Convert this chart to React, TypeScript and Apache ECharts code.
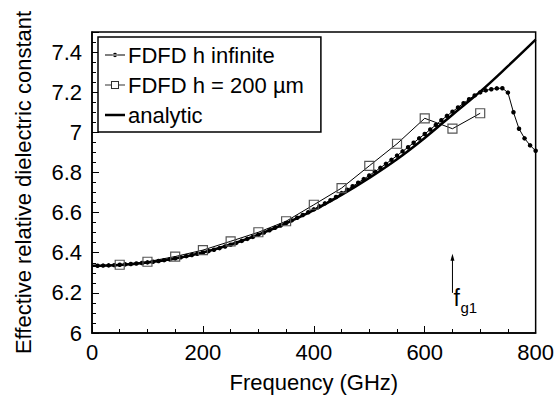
import React, { useEffect, useRef } from "react";
import * as echarts from "echarts";

// FDFD h infinite (10 GHz steps)
const freqInf = [
  10, 20, 30, 40, 50, 60, 70, 80, 90, 100,
  110, 120, 130, 140, 150, 160, 170, 180, 190, 200,
  210, 220, 230, 240, 250, 260, 270, 280, 290, 300,
  310, 320, 330, 340, 350, 360, 370, 380, 390, 400,
  410, 420, 430, 440, 450, 460, 470, 480, 490, 500,
  510, 520, 530, 540, 550, 560, 570, 580, 590, 600,
  610, 620, 630, 640, 650, 660, 670, 680, 690, 700,
  710, 720, 730, 740, 750, 760, 770, 780, 790, 800,
];
const epsInf = [
  6.335, 6.336, 6.337, 6.338, 6.34, 6.342, 6.344, 6.346, 6.349, 6.352,
  6.355, 6.359, 6.363, 6.367, 6.372, 6.377, 6.383, 6.389, 6.395, 6.401,
  6.408, 6.415, 6.423, 6.431, 6.44, 6.449, 6.459, 6.469, 6.479, 6.49,
  6.501, 6.512, 6.524, 6.536, 6.548, 6.561, 6.574, 6.588, 6.602, 6.616,
  6.631, 6.646, 6.662, 6.678, 6.697, 6.714, 6.731, 6.749, 6.767, 6.785,
  6.804, 6.823, 6.843, 6.863, 6.884, 6.905, 6.926, 6.948, 6.97, 6.992,
  7.014, 7.037, 7.06, 7.082, 7.103, 7.124, 7.145, 7.165, 7.184, 7.199,
  7.209, 7.215, 7.219, 7.22, 7.198, 7.1, 7.018, 6.97, 6.935, 6.908,
];

// FDFD h = 200 um
const freq200 = [50, 100, 150, 200, 250, 300, 350, 400, 450, 500, 550, 600, 650, 700];
const eps200 = [6.34, 6.355, 6.381, 6.413, 6.457, 6.502, 6.557, 6.639, 6.722, 6.833, 6.943, 7.07, 7.018, 7.095];

// analytic
const freqAna = [0, 50, 100, 150, 200, 250, 300, 350, 400, 450, 500, 550, 600, 650, 700, 750, 800];
const epsAna = [6.335, 6.339, 6.351, 6.371, 6.401, 6.441, 6.49, 6.547, 6.612, 6.688, 6.773, 6.866, 6.972, 7.088, 7.203, 7.33, 7.462];

// cutoff marker f_g1
const fg1Freq = 650;
const fg1Range = [6.2, 6.395];

const xTicks = { min: 0, max: 800, interval: 200 };
const yTicks = { min: 6, max: 7.5, interval: 0.2 };

const seriesNames = ["FDFD h infinite", "FDFD h = 200 µm", "analytic"];

const FONT = "'Liberation Sans', Arial, sans-serif";

// legend icons (box 20 x 12; tiny corner dots fix the bounding box)
const BOX = "M0,0h0.01v0.01h-0.01z M19.99,11.99h0.01v0.01h-0.01z ";
const iconDot = "path://" + BOX + "M0,5.5h20v1h-20z M10,3.8a2.2,2.2 0 1,0 0.001,0z";
const iconSquare =
  "path://" + BOX + "M0,5.5h6v1h-6z M14,5.5h6v1h-6z M6,2h8v8h-8z M7,3v6h6v-6z";
const iconLine = "path://" + BOX + "M0,4.7h20v2.6h-20z";

export default function App() {
  const ref = useRef<HTMLDivElement>(null);
  useEffect(() => {
    if (!ref.current) return;
    const chart = echarts.init(ref.current, undefined, { renderer: "svg" });
    const pair = (xs: number[], ys: number[]) => xs.map((x, i) => [x, ys[i]]);
    chart.setOption({
      animation: false,
      backgroundColor: "#fff",
      textStyle: { fontFamily: FONT },
      grid: {
        left: 92, right: 20, top: 32, bottom: 68,
        show: true, borderColor: "#000", borderWidth: 1.5, backgroundColor: "transparent",
      },
      legend: {
        orient: "vertical",
        left: 98,
        top: 37,
        backgroundColor: "#fff",
        borderColor: "#000",
        borderWidth: 1.5,
        borderRadius: 0,
        padding: [7, 17, 6, 7],
        itemWidth: 20,
        itemHeight: 12,
        itemGap: 8,
        textStyle: { fontSize: 22, color: "#000", fontFamily: FONT, padding: [0, 0, 0, -2] },
        data: [
          { name: seriesNames[0], icon: iconDot, itemStyle: { color: "#000" } },
          { name: seriesNames[1], icon: iconSquare, itemStyle: { color: "#333", borderWidth: 0 } },
          { name: seriesNames[2], icon: iconLine, itemStyle: { color: "#000" } },
        ],
      },
      xAxis: {
        type: "value",
        min: xTicks.min, max: xTicks.max, interval: xTicks.interval,
        name: "Frequency (GHz)",
        nameLocation: "middle",
        nameGap: 38,
        nameTextStyle: { fontSize: 22, color: "#000", fontFamily: FONT },
        axisLine: { show: true, lineStyle: { color: "#000", width: 1.5 } },
        axisTick: { show: true, inside: true, length: 7, lineStyle: { color: "#000", width: 1 } },
        minorTick: { show: true, splitNumber: 4, length: 4, lineStyle: { color: "#000", width: 1 } },
        axisLabel: { fontSize: 22, color: "#000", margin: 8, fontFamily: FONT },
        splitLine: { show: false },
      },
      yAxis: {
        type: "value",
        min: yTicks.min, max: yTicks.max, interval: yTicks.interval,
        name: "Effective relative dielectric constant",
        nameLocation: "middle",
        nameGap: 58,
        nameTextStyle: { fontSize: 22, color: "#000", fontFamily: FONT },
        axisLine: { show: true, lineStyle: { color: "#000", width: 1.5 } },
        axisTick: { show: true, inside: true, length: 7, lineStyle: { color: "#000", width: 1 } },
        minorTick: { show: true, splitNumber: 4, length: 4, lineStyle: { color: "#000", width: 1 } },
        axisLabel: {
          fontSize: 22, color: "#000", margin: 10, fontFamily: FONT,
          showMaxLabel: false,
          formatter: (v: number) => (v > 7.45 ? "" : String(Number(v.toFixed(1)))),
        },
        splitLine: { show: false },
      },
      series: [
        {
          name: seriesNames[2],
          type: "line",
          data: pair(freqAna, epsAna),
          smooth: 0.4,
          showSymbol: false,
          symbol: "none",
          lineStyle: { color: "#000", width: 2.5 },
          itemStyle: { color: "#000" },
          z: 2,
        },
        {
          name: seriesNames[0],
          type: "line",
          data: pair(freqInf, epsInf),
          symbol: "circle",
          symbolSize: 4.5,
          showSymbol: true,
          showAllSymbol: true,
          lineStyle: { color: "#000", width: 1 },
          itemStyle: { color: "#000" },
          z: 3,
        },
        {
          name: seriesNames[1],
          type: "line",
          data: pair(freq200, eps200),
          symbol: "rect",
          symbolSize: 9,
          showSymbol: true,
          lineStyle: { color: "#000", width: 1 },
          itemStyle: { color: "rgba(255,255,255,0)", borderColor: "#555", borderWidth: 1.2 },
          z: 4,
        },
      ],
    });

    const pb = chart.convertToPixel({ gridIndex: 0 }, [fg1Freq, fg1Range[0]]) as number[];
    const pt = chart.convertToPixel({ gridIndex: 0 }, [fg1Freq, fg1Range[1]]) as number[];
    chart.setOption({
      graphic: [
        {
          type: "line",
          shape: { x1: pb[0], y1: pb[1], x2: pt[0], y2: pt[1] + 4 },
          style: { stroke: "#000", lineWidth: 1 },
          z: 10,
        },
        {
          type: "polygon",
          shape: { points: [[pt[0], pt[1]], [pt[0] - 2, pt[1] + 7], [pt[0] + 2, pt[1] + 7]] },
          style: { fill: "#000" },
          z: 10,
        },
        {
          type: "text",
          x: pb[0] + 1,
          y: pb[1] + 17,
          style: { text: "f", fontSize: 23, fontFamily: FONT, fill: "#000", align: "left", verticalAlign: "bottom" },
          z: 10,
        },
        {
          type: "text",
          x: pb[0] + 8,
          y: pb[1] + 22,
          style: { text: "g1", fontSize: 15, fontFamily: FONT, fill: "#000", align: "left", verticalAlign: "bottom" },
          z: 10,
        },
      ],
    });
    return () => chart.dispose();
  }, []);
  return <div ref={ref} style={{ position: "fixed", left: 0, top: 0, width: 557, height: 401 }} />;
}
